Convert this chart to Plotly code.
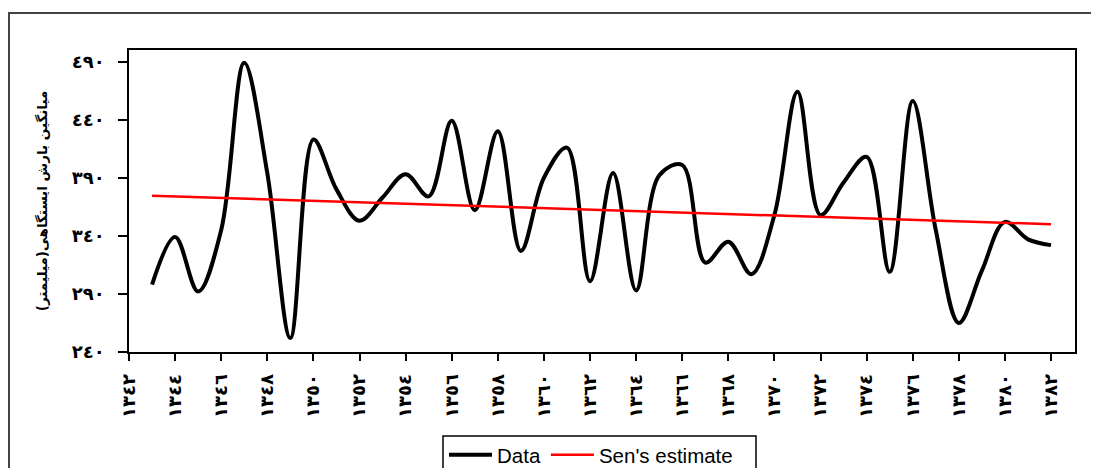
import plotly.graph_objects as go

years = [1343, 1344, 1345, 1346, 1347, 1348, 1349, 1350, 1351, 1352,
         1353, 1354, 1355, 1356, 1357, 1358, 1359, 1360, 1361, 1362,
         1363, 1364, 1365, 1366, 1367, 1368, 1369, 1370, 1371, 1372,
         1373, 1374, 1375, 1376, 1377, 1378, 1379, 1380, 1381, 1382]
rainfall = [298, 339, 292, 345, 489, 394, 252, 423, 380, 353,
            373, 393, 374, 439, 362, 430, 327, 390, 416, 301,
            394, 293, 392, 401, 317, 335, 307, 358, 464, 358,
            386, 408, 309, 456, 345, 265, 310, 352, 337, 332]

sen_years = [1343, 1382]
sen_values = [374.5, 350.0]

x_tick_vals = [1342, 1344, 1346, 1348, 1350, 1352, 1354, 1356, 1358, 1360, 1362,
               1364, 1366, 1368, 1370, 1372, 1374, 1376, 1378, 1380, 1382]
x_tick_text = ["١٣٤٢", "١٣٤٤", "١٣٤٦", "١٣٤٨", "١٣٥٠", "١٣٥٢", "١٣٥٤", "١٣٥٦",
               "١٣٥٨", "١٣٦٠", "١٣٦٢", "١٣٦٤", "١٣٦٦", "١٣٦٨", "١٣٧٠", "١٣٧٢",
               "١٣٧٤", "١٣٧٦", "١٣٧٨", "١٣٨٠", "١٣٨٢"]
y_tick_vals = [240, 290, 340, 390, 440, 490]
y_tick_text = ["٢٤٠", "٢٩٠", "٣٤٠", "٣٩٠", "٤٤٠", "٤٩٠"]

y_title = "میانگین بارش ایستگاهی(میلیمتر)"

fig = go.Figure()
fig.add_trace(go.Scatter(
    x=years, y=rainfall, mode="lines", name="Data",
    line=dict(color="black", width=4, shape="spline", smoothing=1.0),
))
fig.add_trace(go.Scatter(
    x=sen_years, y=sen_values, mode="lines", name="Sen's estimate",
    line=dict(color="#ff0000", width=2.5),
))

# page body has an 8px margin, so the figure is shifted by (8, 8)
OFF = 8
W, H = 1099 - OFF, 468 - OFF
L, T = 129 - OFF, 50 - OFF
R = W - (1075 - OFF)
B = H - (352 - OFF)
pw = W - L - R
ph = H - T - B

def px_x(px):
    return (px - OFF - L) / pw

def px_y(py):
    return (H - B - (py - OFF)) / ph

fig.update_layout(
    width=W, height=H,
    margin=dict(l=L, r=R, t=T, b=B, autoexpand=False),
    paper_bgcolor="white", plot_bgcolor="white",
    showlegend=True,
    legend=dict(
        orientation="h", x=px_x(444), y=px_y(455), xanchor="left", yanchor="middle",
        borderwidth=0, bgcolor="rgba(0,0,0,0)",
        font=dict(family="Liberation Sans, Arial, sans-serif", size=20.5, color="black"),
        itemwidth=43, tracegroupgap=0,
    ),
    xaxis=dict(
        range=[1342, 1383.04], tickmode="array", tickvals=x_tick_vals, ticktext=x_tick_text,
        tickangle=-90, ticks="outside", ticklen=7, tickcolor="black", tickwidth=1.5,
        ticklabelstandoff=6,
        showline=True, linecolor="black", linewidth=1.5, mirror=True,
        showgrid=False, zeroline=False,
        tickfont=dict(family="DejaVu Sans", size=18, color="black", weight="bold"),
    ),
    yaxis=dict(
        range=[240, 500], tickmode="array", tickvals=y_tick_vals, ticktext=y_tick_text,
        ticks="outside", ticklen=9, tickcolor="black", tickwidth=1.5,
        ticklabelstandoff=10,
        showline=True, linecolor="black", linewidth=1.5, mirror=True,
        showgrid=False, zeroline=False,
        tickfont=dict(family="DejaVu Sans", size=18, color="black", weight="bold"),
        title=dict(text=y_title, standoff=21,
                   font=dict(family="DejaVu Sans", size=13.5, color="black", weight="bold")),
    ),
    shapes=[
        dict(type="rect", xref="paper", yref="paper",
             x0=px_x(9), x1=px_x(1120), y0=px_y(490), y1=px_y(13),
             line=dict(color="#444444", width=2), fillcolor="rgba(0,0,0,0)", layer="below"),
        dict(type="rect", xref="paper", yref="paper",
             x0=px_x(443), x1=px_x(756), y0=px_y(490), y1=px_y(436),
             line=dict(color="black", width=1.5), fillcolor="white", layer="below"),
    ],
)

fig.write_html("out.html")
